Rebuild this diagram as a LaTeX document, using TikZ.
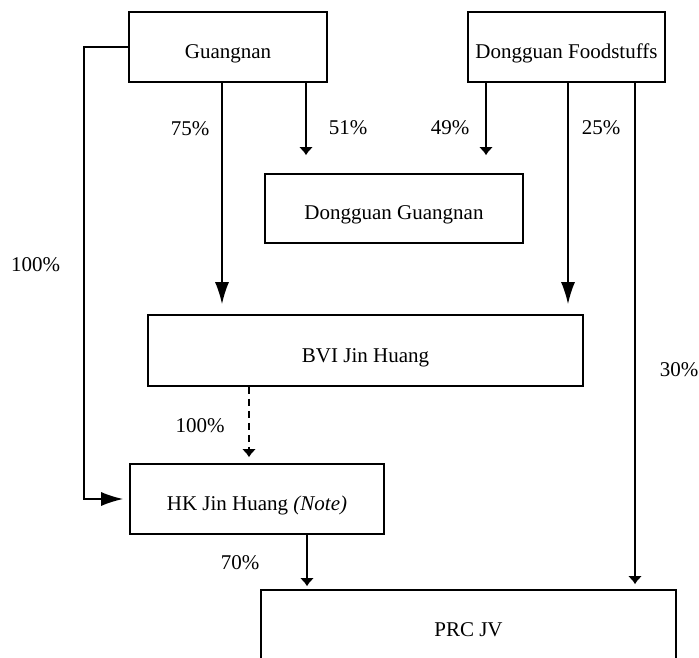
\documentclass[tikz,border=0pt]{standalone}
\usepackage{fontspec}
\setmainfont{Liberation Serif}
\usepackage{tikz}
\usetikzlibrary{arrows.meta, calc}

\begin{document}
\begin{tikzpicture}[x=0.5pt, y=-0.5pt,
  font=\fontsize{10.5}{12}\selectfont,
  company/.style={draw, line width=0.8pt, inner sep=0pt, text height=1.15em, text depth=0pt},
  bigarrow/.style={line width=0.8pt, -{Latex[length=11pt,width=7pt]}},
  smallarrow/.style={line width=0.8pt, -{Latex[length=4pt,width=7pt]}}]
  \useasboundingbox (0,0) rectangle (699,657);
  % Companies
  \node[company, minimum width=99pt, minimum height=35pt] (guangnan) at (228, 47) {Guangnan};
  \node[company, minimum width=98.5pt, minimum height=35pt] (foodstuffs) at (566.5, 47) {Dongguan Foodstuffs};
  \node[company, minimum width=129pt, minimum height=34.5pt] (dgguangnan) at (394, 208.5) {Dongguan Guangnan};
  \node[company, minimum width=217.5pt, minimum height=35.5pt] (bvi) at (365.5, 350.5) {BVI Jin Huang};
  \node[company, minimum width=127pt, minimum height=35pt] (hk) at (257, 499) {HK Jin Huang \textit{(Note)}};
  \node[company, minimum width=207.5pt, minimum height=35pt] (prc) at (468.5, 625) {PRC JV};
  %
  % Shareholdings
  \node (l75) at (190, 129) {75\%};
  \node (l51) at (348, 128) {51\%};
  \node (l49) at (450, 128) {49\%};
  \node (l25) at (601, 128) {25\%};
  \node (l100a) at (35.5, 265) {100\%};
  \node (l30) at (679, 370) {30\%};
  \node (l100b) at (200, 426) {100\%};
  \node (l70) at (240, 563) {70\%};
  %
  % Ownership edges:
  \draw[bigarrow, shorten >=5pt] (guangnan.south -| 222,0) -- (bvi.north -| 222,0);
  \draw[smallarrow, shorten >=9pt] (guangnan.south -| 306,0) -- (dgguangnan.north -| 306,0);
  \draw[smallarrow, shorten >=9pt] (foodstuffs.south -| 486,0) -- (dgguangnan.north -| 486,0);
  \draw[bigarrow, shorten >=5pt] (foodstuffs.south -| 568,0) -- (bvi.north -| 568,0);
  \draw[smallarrow, shorten >=2.5pt] (foodstuffs.south -| 635,0) -- (prc.north -| 635,0);
  \draw[bigarrow, shorten >=3pt] (guangnan.west) -- ++(-44,0) |- (hk.west);
  \draw[smallarrow, dash pattern=on 3.5pt off 2.5pt, shorten >=3pt] (bvi.south -| 249,0) -- (hk.north -| 249,0);
  \draw[smallarrow, shorten >=1.5pt] (hk.south -| 307,0) -- (prc.north -| 307,0);
\end{tikzpicture}
\end{document}
